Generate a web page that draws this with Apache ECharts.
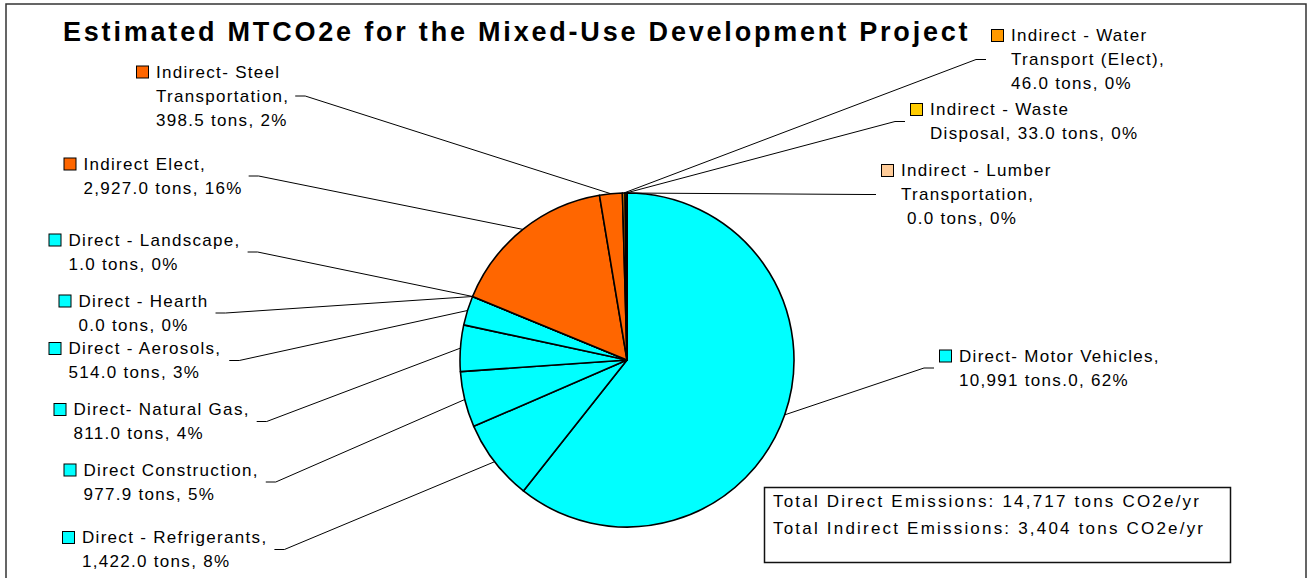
<!DOCTYPE html>
<html>
<head>
<meta charset="utf-8">
<script src="https://cdn.jsdelivr.net/npm/echarts@6/dist/echarts.min.js"></script>
<style>
html, body { margin: 0; padding: 0; background: #fff; }
#chart { width: 1310px; height: 578px; }
#chart text[style*="xttl"] { letter-spacing: 2.8px; }
#chart text[style*="xlbl"] { letter-spacing: 1.3px; }
#chart text[style*="xtot"] { letter-spacing: 2.2px; }
</style>
</head>
<body>
<div id="chart"></div>
<script>
// ---------------- data ----------------
const titleText = 'Estimated MTCO2e for the Mixed-Use Development Project';
const categories = [
  'Direct- Motor Vehicles', 'Direct - Refrigerants', 'Direct Construction', 'Direct- Natural Gas',
  'Direct - Aerosols', 'Direct - Hearth', 'Direct - Landscape', 'Indirect Elect',
  'Indirect- Steel Transportation', 'Indirect - Water Transport (Elect)', 'Indirect - Waste Disposal',
  'Indirect - Lumber Transportation'
];
const values = [10991, 1422, 977.9, 811, 514, 0, 1, 2927, 398.5, 46, 33, 0];
const labelTexts = [
  ['Direct- Motor Vehicles,', '10,991 tons.0, 62%'],
  ['Direct - Refrigerants,', '1,422.0 tons, 8%'],
  ['Direct Construction,', '977.9 tons, 5%'],
  ['Direct- Natural Gas,', '811.0 tons, 4%'],
  ['Direct - Aerosols,', '514.0 tons, 3%'],
  ['Direct - Hearth', '0.0 tons, 0%'],
  ['Direct - Landscape,', '1.0 tons, 0%'],
  ['Indirect Elect,', '2,927.0 tons, 16%'],
  ['Indirect- Steel', 'Transportation,', '398.5 tons, 2%'],
  ['Indirect - Water', 'Transport (Elect),', '46.0 tons, 0%'],
  ['Indirect - Waste', 'Disposal, 33.0 tons, 0%'],
  ['Indirect - Lumber', 'Transportation,', '\u00a00.0 tons, 0%']
];
const totalsText = [
  'Total Direct Emissions: 14,717 tons CO2e/yr',
  'Total Indirect Emissions: 3,404 tons CO2e/yr'
];

// ---------------- styles / layout ----------------
const sliceColors = ['#00FFFF', '#00FFFF', '#00FFFF', '#00FFFF', '#00FFFF', '#00FFFF', '#00FFFF',
  '#FF6600', '#FF6600', '#FF9900', '#FFCC00', '#FFCC99'];
// left edge of legend key, centre of first text line
const labelPos = [
  [940, 356], [63, 537.5], [64.5, 470], [54.5, 409.5], [49.5, 348.5], [59.5, 301],
  [49.5, 240], [64.5, 164], [137, 72], [992, 35.5], [911, 109.5], [882, 170.5]
];
const PIE_CENTER = [627, 360];
const PIE_RADIUS = 167;
const LINE_H = 24;
const LABEL_LS = 1.3;
const LBL_FONT = "'Liberation Sans', Arial, xlbl";

const rich = {
  g: { width: 8, height: 11, lineHeight: LINE_H },
  pad: { width: 19, height: 11, lineHeight: LINE_H },
  t: { fontSize: 17, fontFamily: LBL_FONT, color: '#000', lineHeight: LINE_H }
};
sliceColors.forEach((c, i) => {
  rich['c' + i] = { width: 11, height: 11, backgroundColor: c, borderColor: '#000', borderWidth: 1, lineHeight: LINE_H };
});

const chart = echarts.init(document.getElementById('chart'), null, { renderer: 'svg' });
chart.setOption({
  animation: false,
  backgroundColor: '#fff',
  title: {
    text: titleText,
    left: 63,
    top: 18.5,
    padding: 0,
    textStyle: { fontFamily: "'Liberation Sans', Arial, xttl", fontSize: 27, fontWeight: 'bold', color: '#000' }
  },
  graphic: [
    {
      type: 'rect', z: -10, silent: true,
      shape: { x: 6, y: 4, width: 1300, height: 620 },
      style: { fill: 'none', stroke: '#333', lineWidth: 1.5 }
    },
    {
      type: 'rect', silent: true,
      shape: { x: 764.5, y: 487.5, width: 466, height: 75 },
      style: { fill: '#fff', stroke: '#111', lineWidth: 1.5 }
    },
    {
      type: 'text', silent: true,
      style: {
        text: totalsText.join('\n'), x: 773, y: 488,
        fontSize: 17, fontFamily: "'Liberation Sans', Arial, xtot",
        lineHeight: 27, fill: '#000', align: 'left', verticalAlign: 'top'
      }
    }
  ],
  series: [{
    type: 'pie',
    center: PIE_CENTER,
    radius: PIE_RADIUS,
    startAngle: 90,
    clockwise: true,
    avoidLabelOverlap: false,
    minShowLabelAngle: 0,
    emphasis: { disabled: true },
    itemStyle: { borderColor: '#000', borderWidth: 1.6 },
    label: {
      show: true,
      position: 'outside',
      color: '#000',
      rich: rich,
      formatter: function (p) {
        const i = p.dataIndex;
        return labelTexts[i].map((s, k) => (k === 0 ? '{c' + i + '|}{g|}' : '{pad|}') + '{t|' + s + '}').join('\n');
      }
    },
    labelLine: { show: true, lineStyle: { color: '#000', width: 1 } },
    labelLayout: function (params) {
      const i = params.dataIndex;
      const pos = labelPos[i];
      const n = labelTexts[i].length;
      const h = n * LINE_H;
      const top = pos[1] - LINE_H / 2;
      const x = pos[0];
      const maxChars = Math.max.apply(null, labelTexts[i].map(s => s.length));
      const w = params.labelRect.width + LABEL_LS * maxChars;
      const cy = top + h / 2;
      const isLeft = x < PIE_CENTER[0];
      const p2 = isLeft ? [x + w + 6, cy] : [x - 6, cy];
      const p1 = isLeft ? [p2[0] + 10, cy] : [p2[0] - 10, cy];
      const out = { x: x, y: top, align: 'left', verticalAlign: 'top' };
      if (params.labelLinePoints) {
        out.labelLinePoints = [params.labelLinePoints[0], p1, p2];
      }
      return out;
    },
    data: categories.map((name, i) => ({ name: name, value: values[i], itemStyle: { color: sliceColors[i] } }))
  }]
});
</script>
</body>
</html>
